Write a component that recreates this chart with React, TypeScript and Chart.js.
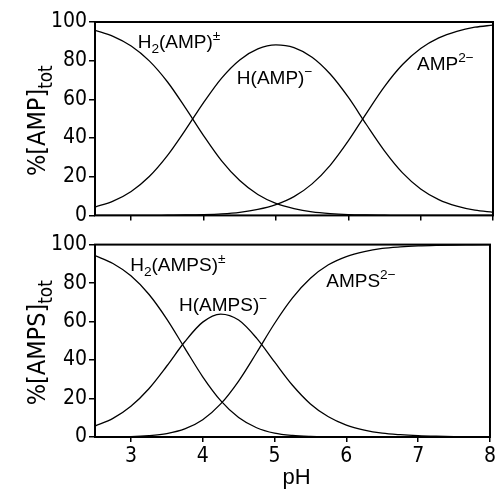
import React, { useEffect, useRef } from "react";
import { Chart, registerables } from "chart.js";

Chart.register(...registerables);

// pH grid (x values)
const pH = [2.5, 2.75, 3, 3.25, 3.5, 3.75, 4, 4.25, 4.5, 4.75, 5, 5.25, 5.5, 5.75, 6, 6.25, 6.5, 6.75, 7, 7.25, 7.5, 7.75, 8];

// Top panel: AMP species (% of total)
const H2AMP = [95.7, 92.6, 87.6, 79.9, 69.1, 55.6, 41.3, 28.2, 18.0, 10.8, 6.2, 3.5, 1.8, 0.9, 0.4, 0.2, 0.1, 0, 0, 0, 0, 0, 0];
const HAMP = [4.3, 7.4, 12.4, 20.1, 30.9, 44.2, 58.3, 71.0, 80.4, 86.1, 88.2, 86.8, 81.8, 73.1, 61.1, 47.0, 33.4, 22.0, 13.7, 8.2, 4.8, 2.7, 1.6];
const AMP2 = [0, 0, 0, 0, 0.1, 0.2, 0.4, 0.8, 1.6, 3.1, 5.6, 9.7, 16.3, 25.9, 38.5, 52.8, 66.6, 78.0, 86.3, 91.8, 95.2, 97.3, 98.4];

// Bottom panel: AMPS species (% of total)
const H2AMPS = [94.3, 90.2, 83.8, 74.2, 61.3, 46.2, 31.3, 18.9, 10.1, 4.8, 2.0, 0.8, 0.3, 0.1, 0, 0, 0, 0, 0, 0, 0, 0, 0];
const HAMPS = [5.7, 9.7, 16.0, 25.1, 36.9, 49.5, 59.7, 63.9, 60.8, 51.4, 39.0, 26.9, 17.2, 10.5, 6.2, 3.6, 2.0, 1.2, 0.7, 0.4, 0.2, 0.1, 0.1];
const AMPS2 = [0, 0.1, 0.2, 0.7, 1.8, 4.2, 9.0, 17.2, 29.1, 43.8, 59.0, 72.3, 82.5, 89.5, 93.8, 96.4, 98.0, 98.8, 99.3, 99.6, 99.8, 99.9, 100];

const xTicks = [3, 4, 5, 6, 7, 8];
const yTicks = [0, 20, 40, 60, 80, 100];

type Part = [string, "n" | "sub" | "sup"];

// curve labels: [parts, pH (left edge), % (vertical middle)]
const topLabels: [Part[], number, number][] = [
  [[["H", "n"], ["2", "sub"], ["(AMP)", "n"], ["±", "sup"]], 3.09, 90.3],
  [[["H(AMP)", "n"], ["−", "sup"]], 4.46, 71.7],
  [[["AMP", "n"], ["2−", "sup"]], 6.95, 78.7],
];
const bottomLabels: [Part[], number, number][] = [
  [[["H", "n"], ["2", "sub"], ["(AMPS)", "n"], ["±", "sup"]], 2.99, 89.8],
  [[["H(AMPS)", "n"], ["−", "sup"]], 3.67, 68.8],
  [[["AMPS", "n"], ["2−", "sup"]], 5.72, 81.7],
];

const topTitle: Part[] = [["%[AMP]", "n"], ["tot", "sub"]];
const bottomTitle: Part[] = [["%[AMPS]", "n"], ["tot", "sub"]];

const LABEL_FONT = "'Liberation Sans', Arial, sans-serif";
const NARROW_FONT = "'Liberation Sans Narrow', 'DejaVu Sans Condensed', 'Liberation Sans', sans-serif";

function richWidth(ctx: CanvasRenderingContext2D, parts: Part[], size: number, family: string, subScale: number) {
  let w = 0;
  for (const [t, k] of parts) {
    const s = k === "n" ? size : size * subScale;
    ctx.font = `${s}px ${family}`;
    w += ctx.measureText(t).width;
  }
  return w;
}

function drawRich(ctx: CanvasRenderingContext2D, parts: Part[], x: number, baseline: number, size: number, family: string, subScale: number) {
  let cx = x;
  ctx.textBaseline = "alphabetic";
  ctx.textAlign = "left";
  for (const [t, k] of parts) {
    const s = k === "n" ? size : size * subScale;
    ctx.font = `${s}px ${family}`;
    let y = baseline;
    if (k === "sub") y = baseline + size * 0.28;
    if (k === "sup") y = baseline - size * 0.42;
    ctx.fillText(t, cx, y);
    cx += ctx.measureText(t).width;
  }
}

function makePlugin(labels: [Part[], number, number][], title: Part[], drawPH: boolean) {
  return {
    id: "annot",
    afterDatasetsDraw(chart: any) {
      const ctx: CanvasRenderingContext2D = chart.ctx;
      const a = chart.chartArea;
      const xs = chart.scales.x;
      const ys = chart.scales.y;
      ctx.save();
      ctx.strokeStyle = "#000";
      ctx.lineWidth = 2;
      ctx.strokeRect(a.left, a.top, a.right - a.left, a.bottom - a.top);
      ctx.fillStyle = "#000";
      for (const [parts, px, py] of labels) {
        const x = xs.getPixelForValue(px);
        const y = ys.getPixelForValue(py);
        drawRich(ctx, parts, x, y + 19 * 0.358, 19, LABEL_FONT, 0.72);
      }
      // y title rotated
      const cy = (a.top + a.bottom) / 2 + 2;
      ctx.translate(33, cy);
      ctx.rotate(-Math.PI / 2);
      const w = richWidth(ctx, title, 25, NARROW_FONT, 0.75);
      drawRich(ctx, title, -w / 2, 12, 25, NARROW_FONT, 0.75);
      ctx.restore();
      if (drawPH) {
        ctx.save();
        ctx.fillStyle = "#000";
        ctx.font = `22px ${LABEL_FONT}`;
        ctx.textAlign = "center";
        ctx.textBaseline = "alphabetic";
        ctx.fillText("pH", (a.left + a.right) / 2 + 4, chart.height - 5);
        ctx.restore();
      }
    },
  };
}

function dataset(vals: number[]) {
  return {
    data: vals.map((v, i) => ({ x: pH[i], y: v })),
    borderColor: "#000",
    borderWidth: 1.3,
    pointRadius: 0,
    fill: false,
    cubicInterpolationMode: "monotone" as const,
  };
}

function makeConfig(series: number[][], showXLabels: boolean, padTop: number, xHeight: number, plugin: any) {
  return {
    type: "line" as const,
    data: { datasets: series.map(dataset) },
    options: {
      animation: false as const,
      responsive: false,
      events: [],
      layout: { padding: { left: 0, right: 5, top: padTop, bottom: 0 } },
      plugins: { legend: { display: false }, tooltip: { enabled: false } },
      scales: {
        x: {
          type: "linear" as const,
          min: 2.5,
          max: 8,
          afterBuildTicks: (axis: any) => {
            axis.ticks = xTicks.map((v) => ({ value: v }));
          },
          afterFit: (axis: any) => {
            axis.height = xHeight;
          },
          border: { display: false },
          grid: { drawOnChartArea: false, drawTicks: true, tickLength: 5, color: "#000", lineWidth: 1.5 },
          ticks: {
            display: showXLabels,
            color: "#000",
            padding: 2,
            maxRotation: 0,
            autoSkip: false,
            font: { family: NARROW_FONT, size: 21 },
          },
        },
        y: {
          min: 0,
          max: 100,
          afterBuildTicks: (axis: any) => {
            axis.ticks = yTicks.map((v) => ({ value: v }));
          },
          afterFit: (axis: any) => {
            axis.width = 95;
          },
          border: { display: false },
          grid: { drawOnChartArea: false, drawTicks: true, tickLength: 6, color: "#000", lineWidth: 1.5 },
          ticks: {
            color: "#000",
            padding: 2,
            font: { family: NARROW_FONT, size: 21 },
          },
        },
      },
    },
    plugins: [plugin],
  };
}

export default function App() {
  const topRef = useRef<HTMLCanvasElement | null>(null);
  const botRef = useRef<HTMLCanvasElement | null>(null);

  useEffect(() => {
    const c1 = new Chart(topRef.current as HTMLCanvasElement, makeConfig([H2AMP, HAMP, AMP2], false, 22, 12, makePlugin(topLabels, topTitle, false)) as any);
    const c2 = new Chart(botRef.current as HTMLCanvasElement, makeConfig([H2AMPS, HAMPS, AMPS2], true, 10, 52, makePlugin(bottomLabels, bottomTitle, true)) as any);
    return () => {
      c1.destroy();
      c2.destroy();
    };
  }, []);

  return (
    <div style={{ position: "absolute", left: 0, top: 0, width: 498, height: 489, background: "#fff" }}>
      <canvas ref={topRef} width={498} height={230} style={{ position: "absolute", left: 0, top: 0, width: 498, height: 230 }} />
      <canvas ref={botRef} width={498} height={259} style={{ position: "absolute", left: 0, top: 230, width: 498, height: 259 }} />
    </div>
  );
}
